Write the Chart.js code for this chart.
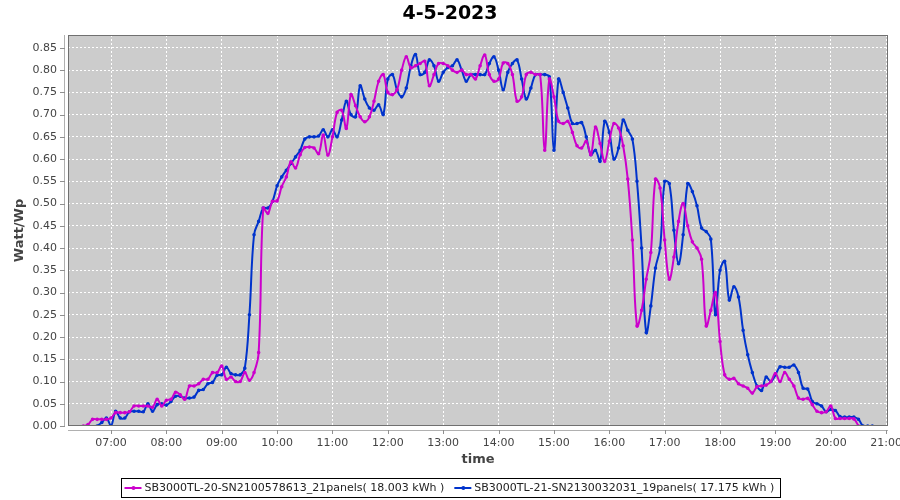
<!DOCTYPE html>
<html>
<head>
<meta charset="utf-8">
<script src="https://cdn.jsdelivr.net/npm/chart.js@4.4.1/dist/chart.umd.min.js"></script>
<style>
  html, body { margin: 0; padding: 0; background: #fff; }
  #wrap { width: 900px; height: 500px; }
</style>
</head>
<body>
<div id="wrap"><canvas id="chart" width="900" height="500"></canvas></div>
<script>
// Chart data (5-minute samples starting at 06:30)
const chartTitle = '4-5-2023';
const xAxisTitle = 'time';
const yAxisTitle = 'Watt/Wp';
const firstSample = '06:30';
const sampleStep = 5; // minutes

const seriesLabels = [
  'SB3000TL-20-SN2100578613_21panels( 18.003 kWh )',
  'SB3000TL-21-SN2130032031_19panels( 17.175 kWh )'
];

const xTickLabels = ['07:00', '08:00', '09:00', '10:00', '11:00', '12:00', '13:00',
  '14:00', '15:00', '16:00', '17:00', '18:00', '19:00', '20:00', '21:00'];
const yTicks = [0, 0.05, 0.10, 0.15, 0.20, 0.25, 0.30, 0.35, 0.40, 0.45,
  0.50, 0.55, 0.60, 0.65, 0.70, 0.75, 0.80, 0.85];

const sb20Values = [
  0.0, 0.003, 0.015, 0.015, 0.015, 0.015,
  0.018, 0.03, 0.03, 0.03, 0.032, 0.045, 0.045, 0.045, 0.045, 0.042, 0.06, 0.045,
  0.058, 0.06, 0.076, 0.07, 0.06, 0.09, 0.09, 0.095, 0.105, 0.105, 0.12, 0.12,
  0.135, 0.105, 0.11, 0.10, 0.10, 0.12, 0.103, 0.12, 0.165, 0.49, 0.478, 0.505,
  0.506, 0.538, 0.56, 0.594, 0.58, 0.61, 0.626, 0.627, 0.625, 0.612, 0.654, 0.609,
  0.65, 0.705, 0.71, 0.669, 0.745, 0.72, 0.695, 0.684, 0.695, 0.73, 0.775, 0.79,
  0.75, 0.745, 0.756, 0.80, 0.83, 0.805, 0.81, 0.815, 0.82, 0.765, 0.79, 0.815,
  0.815, 0.81, 0.80, 0.795, 0.80, 0.79, 0.79, 0.78, 0.81, 0.834, 0.79, 0.775,
  0.78, 0.816, 0.815, 0.79, 0.73, 0.74, 0.79, 0.795, 0.79, 0.79, 0.62, 0.78,
  0.74, 0.685, 0.68, 0.685, 0.66, 0.63, 0.625, 0.64, 0.61, 0.672, 0.635, 0.595,
  0.64, 0.68, 0.67, 0.63, 0.555, 0.418, 0.225, 0.26, 0.33, 0.39, 0.555, 0.535,
  0.418, 0.33, 0.38, 0.46, 0.50, 0.45, 0.414, 0.40, 0.375, 0.225, 0.26, 0.30,
  0.19, 0.115, 0.105, 0.107, 0.095, 0.09, 0.085, 0.074, 0.088, 0.09, 0.092, 0.10,
  0.118, 0.10, 0.12, 0.105, 0.09, 0.063, 0.06, 0.062, 0.048, 0.033, 0.03, 0.032,
  0.045, 0.017, 0.017, 0.017, 0.017, 0.016, 0.0, null, null, null
];

const sb21Values = [
  null, null, null, 0.0, 0.008, 0.018,
  0.0, 0.033, 0.018, 0.018, 0.032, 0.033, 0.033, 0.032, 0.05, 0.033, 0.048, 0.05,
  0.047, 0.055, 0.067, 0.067, 0.063, 0.063, 0.065, 0.08, 0.082, 0.095, 0.098, 0.114,
  0.115, 0.132, 0.118, 0.115, 0.115, 0.13, 0.25, 0.43, 0.46, 0.49, 0.49, 0.505,
  0.54, 0.56, 0.575, 0.59, 0.605, 0.62, 0.645, 0.65, 0.65, 0.652, 0.666, 0.65,
  0.666, 0.65, 0.688, 0.73, 0.70, 0.695, 0.765, 0.735, 0.715, 0.71, 0.722, 0.70,
  0.78, 0.79, 0.755, 0.74, 0.76, 0.81, 0.835, 0.79, 0.795, 0.823, 0.81, 0.775,
  0.795, 0.806, 0.81, 0.823, 0.80, 0.775, 0.79, 0.79, 0.79, 0.79, 0.815, 0.83,
  0.80, 0.756, 0.795, 0.815, 0.823, 0.78, 0.735, 0.76, 0.79, 0.79, 0.79, 0.785,
  0.62, 0.78, 0.75, 0.715, 0.68, 0.68, 0.682, 0.65, 0.61, 0.62, 0.595, 0.685,
  0.66, 0.60, 0.625, 0.688, 0.665, 0.645, 0.55, 0.40, 0.21, 0.27, 0.355, 0.40,
  0.55, 0.545, 0.44, 0.365, 0.43, 0.545, 0.527, 0.495, 0.445, 0.437, 0.42, 0.25,
  0.35, 0.37, 0.283, 0.313, 0.29, 0.215, 0.16, 0.12, 0.09, 0.08, 0.11, 0.10,
  0.115, 0.133, 0.132, 0.132, 0.137, 0.12, 0.085, 0.083, 0.055, 0.05, 0.045, 0.032,
  0.037, 0.035, 0.021, 0.02, 0.02, 0.02, 0.015, 0.0, 0.0, 0.0
];

const toMinutes = (hhmm) => {
  const [h, m] = hhmm.split(':').map(Number);
  return h * 60 + m;
};
const toLabel = (min) => {
  const h = Math.floor(min / 60), m = Math.round(min % 60);
  return String(h).padStart(2, '0') + ':' + String(m).padStart(2, '0');
};

const startMin = toMinutes(firstSample);
const toPoints = (values) => values.map((v, i) => ({ x: startMin + i * sampleStep, y: v }));

const FONT = "'DejaVu Sans', sans-serif";

// plot background, offset axis lines, tick marks, titles and the boxed legend
const plotDecor = {
  id: 'plotDecor',
  beforeDraw(chart) {
    const { ctx, chartArea: a } = chart;
    ctx.save();
    ctx.fillStyle = '#cccccc';
    ctx.fillRect(a.left, a.top, a.right - a.left, a.bottom - a.top);
    ctx.restore();
  },
  afterDraw(chart) {
    const { ctx, chartArea: a } = chart;
    const xs = chart.scales.x, ys = chart.scales.y;
    ctx.save();

    // plot outline
    ctx.strokeStyle = '#707070';
    ctx.lineWidth = 1;
    ctx.strokeRect(a.left + 0.5, a.top + 0.5, a.right - a.left - 1, a.bottom - a.top - 1);

    // axis lines a few pixels off the plot, with outward tick marks
    ctx.strokeStyle = '#b0b0b0';
    ctx.beginPath();
    ctx.moveTo(a.left - 3.5, a.top);
    ctx.lineTo(a.left - 3.5, a.bottom);
    ctx.moveTo(a.left, a.bottom + 4.5);
    ctx.lineTo(a.right, a.bottom + 4.5);
    ctx.stroke();
    ctx.strokeStyle = '#909090';
    ctx.beginPath();
    yTicks.forEach(v => {
      const y = Math.round(ys.getPixelForValue(v)) + 0.5;
      ctx.moveTo(a.left - 8, y);
      ctx.lineTo(a.left - 3, y);
    });
    xTickLabels.forEach(t => {
      const x = Math.round(xs.getPixelForValue(toMinutes(t))) + 0.5;
      ctx.moveTo(x, a.bottom + 4);
      ctx.lineTo(x, a.bottom + 8);
    });
    ctx.stroke();

    // chart title
    ctx.fillStyle = '#000';
    ctx.textAlign = 'center';
    ctx.textBaseline = 'middle';
    ctx.font = 'bold 19px ' + FONT;
    ctx.fillText(chartTitle, chart.width / 2, 14);

    // axis titles
    ctx.fillStyle = '#444';
    ctx.font = 'bold 13px ' + FONT;
    ctx.fillText(xAxisTitle, (a.left + a.right) / 2, 460);
    ctx.save();
    ctx.translate(20, (a.top + a.bottom) / 2);
    ctx.rotate(-Math.PI / 2);
    ctx.fillText(yAxisTitle, 0, 0);
    ctx.restore();

    // legend
    ctx.font = '11px ' + FONT;
    const sampleW = 18, gapText = 2, gapItem = 10, padL = 3, padR = 6;
    const sets = chart.data.datasets;
    const widths = sets.map(ds => ctx.measureText(ds.label).width);
    let total = padL + padR + gapItem * (sets.length - 1);
    widths.forEach(w => { total += sampleW + gapText + w; });
    const boxL = Math.round(chart.width / 2 - total / 2) + 0.5;
    const boxT = 478.5, boxH = 19;
    ctx.strokeStyle = '#000';
    ctx.strokeRect(boxL, boxT, Math.round(total), boxH);
    let x = boxL + padL;
    const cy = boxT + boxH / 2;
    ctx.textAlign = 'left';
    sets.forEach((ds, i) => {
      ctx.strokeStyle = ds.borderColor;
      ctx.lineWidth = 2;
      ctx.beginPath();
      ctx.moveTo(x, cy);
      ctx.lineTo(x + sampleW - 1, cy);
      ctx.stroke();
      ctx.fillStyle = ds.borderColor;
      ctx.beginPath();
      ctx.arc(x + sampleW / 2, cy, 2, 0, Math.PI * 2);
      ctx.fill();
      ctx.fillStyle = '#222';
      ctx.fillText(ds.label, x + sampleW + gapText, cy + 0.5);
      x += sampleW + gapText + widths[i] + gapItem;
    });

    ctx.restore();
  }
};

const ctx = document.getElementById('chart').getContext('2d');
new Chart(ctx, {
  type: 'line',
  data: {
    datasets: [
      {
        label: seriesLabels[0],
        data: toPoints(sb20Values),
        borderColor: '#cc00cc',
        backgroundColor: '#cc00cc',
        borderWidth: 2,
        pointRadius: 0.8,
        pointHoverRadius: 0.8,
        tension: 0.4,
        fill: false
      },
      {
        label: seriesLabels[1],
        data: toPoints(sb21Values),
        borderColor: '#0033cc',
        backgroundColor: '#0033cc',
        borderWidth: 2,
        pointRadius: 0.8,
        pointHoverRadius: 0.8,
        tension: 0.4,
        fill: false
      }
    ]
  },
  options: {
    responsive: false,
    animation: false,
    events: [],
    layout: { padding: { top: 35, right: 12, left: 0, bottom: 0 } },
    plugins: {
      legend: { display: false },
      title: { display: false },
      tooltip: { enabled: false }
    },
    scales: {
      x: {
        type: 'linear',
        min: 373.4,
        max: 1262,
        afterFit: (s) => { s.height = 74; s.paddingLeft = 0; s.paddingRight = 0; },
        afterBuildTicks: (s) => { s.ticks = xTickLabels.map(t => ({ value: toMinutes(t) })); },
        grid: { color: '#ffffff', lineWidth: 1, drawTicks: false },
        border: { display: false, dash: [2, 2] },
        ticks: {
          padding: 11,
          color: '#444',
          font: { family: FONT, size: 11 },
          maxRotation: 0,
          autoSkip: false,
          callback: (v) => toLabel(v)
        }
      },
      y: {
        min: 0,
        max: 0.879,
        afterFit: (s) => { s.width = 68; s.paddingTop = 0; s.paddingBottom = 0; },
        afterBuildTicks: (s) => { s.ticks = yTicks.map(v => ({ value: v })); },
        grid: { color: '#ffffff', lineWidth: 1, drawTicks: false },
        border: { display: false, dash: [2, 2] },
        ticks: {
          padding: 11,
          color: '#444',
          font: { family: FONT, size: 11 },
          callback: (v) => v.toFixed(2)
        }
      }
    }
  },
  plugins: [plotDecor]
});
</script>
</body>
</html>
